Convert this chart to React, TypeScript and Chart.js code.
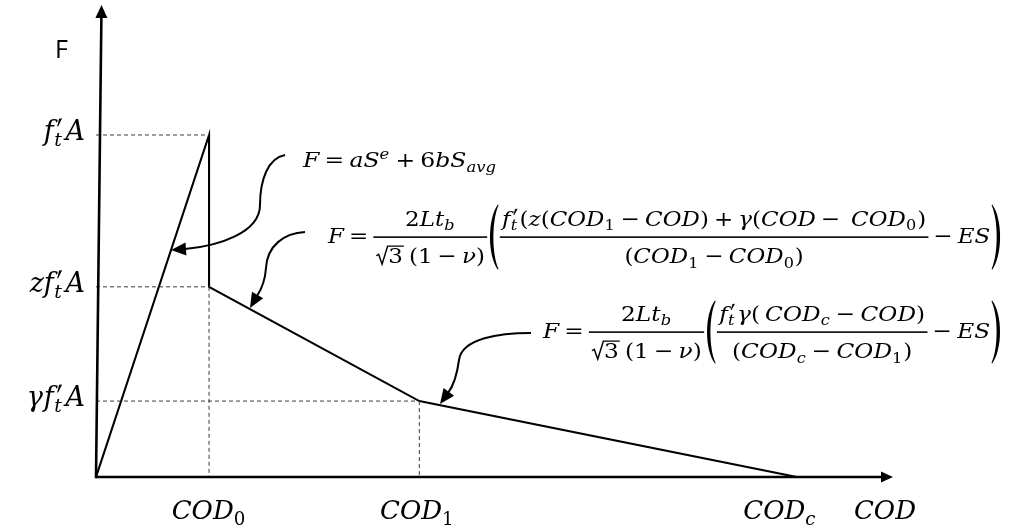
import React, { useEffect, useRef } from 'react';
import { Chart, registerables } from 'chart.js';

Chart.register(...registerables);

// Trilinear cohesive law: force F against crack opening displacement COD
const curveCOD = [0, 1.0, 1.0, 2.86, 6.2];
const curveF = [0, 1.0, 0.556, 0.222, 0];

// Characteristic openings COD0, COD1, CODc and force levels f't A, z f't A, γ f't A
const codTicks = [1.0, 2.86, 6.2];
const forceTicks = [1.0, 0.556, 0.222];

const axisMaxCOD = 7.05;
const axisMaxF = 1.38;
const forceAxisLean = 0.049; // the F axis is drawn leaning slightly right

// ---------- tiny math-text typesetter ----------
type MNode =
  | { k: 'i' | 'r' | 'op'; s: string }
  | { k: 'sub' | 'sup' | 'ps' | 'sqrt'; c: MNode[] }
  | { k: 'frac'; n: MNode[]; d: MNode[] }
  | { k: 'paren'; s: '(' | ')'; h: number }
  | { k: 'sp'; w: number };

const I = (s: string): MNode => ({ k: 'i', s });
const R = (s: string): MNode => ({ k: 'r', s });
const Op = (s: string): MNode => ({ k: 'op', s });
const Sub = (c: MNode[]): MNode => ({ k: 'sub', c });
const Sup = (c: MNode[]): MNode => ({ k: 'sup', c });
const PS = (c: MNode[]): MNode => ({ k: 'ps', c });
const Sqrt = (c: MNode[]): MNode => ({ k: 'sqrt', c });
const Frac = (n: MNode[], d: MNode[]): MNode => ({ k: 'frac', n, d });
const Paren = (s: '(' | ')', h: number): MNode => ({ k: 'paren', s, h });
const Sp = (w: number): MNode => ({ k: 'sp', w });

const FAMILY = '"DejaVu Serif"';
const SCRIPT = 0.7;
const SUBDROP = 0.22;
const SUPRISE = 0.4;
const AXIS = 0.28;
const NUMUP = 0.55;
const DENDN = 1.25;
const OPPAD = 0.22;
const FRACPAD = 0.1;
const PARW = 0.55;

const font = (italic: boolean, s: number) => `${italic ? 'italic ' : ''}${s}px ${FAMILY}`;

type Box = { w: number; asc: number; desc: number };

function measureList(ctx: CanvasRenderingContext2D, list: MNode[], s: number): Box {
  let w = 0, asc = 0, desc = 0;
  for (const n of list) {
    const b = measureNode(ctx, n, s);
    w += b.w;
    asc = Math.max(asc, b.asc);
    desc = Math.max(desc, b.desc);
  }
  return { w, asc, desc };
}

function measureNode(ctx: CanvasRenderingContext2D, n: MNode, s: number): Box {
  switch (n.k) {
    case 'i':
    case 'r':
      ctx.font = font(n.k === 'i', s);
      return { w: ctx.measureText(n.s).width, asc: 0.76 * s, desc: 0.24 * s };
    case 'op':
      ctx.font = font(false, s);
      return { w: ctx.measureText(n.s).width + 2 * OPPAD * s, asc: 0.76 * s, desc: 0.24 * s };
    case 'sp':
      return { w: n.w * s, asc: 0, desc: 0 };
    case 'sub': {
      const b = measureList(ctx, n.c, s * SCRIPT);
      return { w: b.w + 0.04 * s, asc: Math.max(0, b.asc - SUBDROP * s), desc: b.desc + SUBDROP * s };
    }
    case 'sup': {
      const b = measureList(ctx, n.c, s * SCRIPT);
      return { w: b.w + 0.04 * s, asc: b.asc + SUPRISE * s, desc: 0 };
    }
    case 'ps': {
      const b = measureList(ctx, n.c, s * SCRIPT);
      return { w: Math.max(b.w, 0.24 * s) + 0.06 * s, asc: 0.8 * s, desc: b.desc + SUBDROP * s };
    }
    case 'sqrt': {
      const b = measureList(ctx, n.c, s);
      return { w: 0.55 * s + b.w + 0.04 * s, asc: b.asc + 0.12 * s, desc: Math.max(b.desc, 0.1 * s) };
    }
    case 'frac': {
      const nb = measureList(ctx, n.n, s);
      const db = measureList(ctx, n.d, s);
      return {
        w: Math.max(nb.w, db.w) + 2 * FRACPAD * s,
        asc: (AXIS + NUMUP) * s + nb.asc,
        desc: (DENDN - AXIS) * s + db.desc,
      };
    }
    case 'paren':
      return { w: PARW * s, asc: AXIS * s + (n.h * s) / 2, desc: (n.h * s) / 2 - AXIS * s };
  }
}

function drawList(ctx: CanvasRenderingContext2D, list: MNode[], x: number, y: number, s: number) {
  let cx = x;
  for (const n of list) cx += drawNode(ctx, n, cx, y, s);
  return cx - x;
}

// tapered prime mark, drawn as a small wedge
function drawPrime(ctx: CanvasRenderingContext2D, x: number, y: number, s: number) {
  const tx = x + 0.2 * s, ty = y - 0.8 * s;
  const bx = x + 0.09 * s, by = y - 0.5 * s;
  ctx.beginPath();
  ctx.moveTo(tx - 0.055 * s, ty + 0.01 * s);
  ctx.lineTo(tx + 0.055 * s, ty);
  ctx.lineTo(bx + 0.018 * s, by);
  ctx.lineTo(bx - 0.018 * s, by);
  ctx.closePath();
  ctx.fill();
}

function drawNode(ctx: CanvasRenderingContext2D, n: MNode, x: number, y: number, s: number): number {
  const b = measureNode(ctx, n, s);
  switch (n.k) {
    case 'i':
    case 'r':
      ctx.font = font(n.k === 'i', s);
      ctx.fillText(n.s, x, y);
      break;
    case 'op':
      ctx.font = font(false, s);
      ctx.fillText(n.s, x + OPPAD * s, y);
      break;
    case 'sp':
      break;
    case 'sub':
      drawList(ctx, n.c, x, y + SUBDROP * s, s * SCRIPT);
      break;
    case 'sup':
      drawList(ctx, n.c, x, y - SUPRISE * s, s * SCRIPT);
      break;
    case 'ps':
      drawPrime(ctx, x, y, s);
      drawList(ctx, n.c, x - 0.04 * s, y + SUBDROP * s, s * SCRIPT);
      break;
    case 'sqrt': {
      const inner = measureList(ctx, n.c, s);
      const top = y - inner.asc - 0.06 * s;
      ctx.save();
      ctx.lineWidth = 0.065 * s;
      ctx.lineJoin = 'miter';
      ctx.beginPath();
      ctx.moveTo(x + 0.03 * s, y - 0.36 * s);
      ctx.lineTo(x + 0.13 * s, y - 0.43 * s);
      ctx.lineTo(x + 0.28 * s, y + 0.04 * s);
      ctx.lineTo(x + 0.52 * s, top);
      ctx.lineTo(x + 0.55 * s + inner.w + 0.04 * s, top);
      ctx.stroke();
      ctx.restore();
      drawList(ctx, n.c, x + 0.55 * s, y, s);
      break;
    }
    case 'frac': {
      const nb = measureList(ctx, n.n, s);
      const db = measureList(ctx, n.d, s);
      const ay = y - AXIS * s;
      const t = 0.075 * s;
      ctx.fillRect(x, ay - t / 2, b.w, t);
      drawList(ctx, n.n, x + (b.w - nb.w) / 2, ay - NUMUP * s, s);
      drawList(ctx, n.d, x + (b.w - db.w) / 2, ay + DENDN * s, s);
      break;
    }
    case 'paren': {
      const h = n.h * s;
      const top = y - AXIS * s - h / 2;
      const bot = top + h;
      const w = b.w;
      // mirrored for the closing side
      const X = (f: number) => (n.s === '(' ? x + f * w : x + (1 - f) * w);
      ctx.beginPath();
      ctx.moveTo(X(0.85), top);
      ctx.bezierCurveTo(X(0.02), top + 0.22 * h, X(0.02), bot - 0.22 * h, X(0.85), bot);
      ctx.lineTo(X(0.9), bot - 0.01 * h);
      ctx.bezierCurveTo(X(0.36), bot - 0.24 * h, X(0.36), top + 0.24 * h, X(0.9), top + 0.01 * h);
      ctx.closePath();
      ctx.fill();
      break;
    }
  }
  return b.w;
}

// draws a formula between left and right edges (horizontal fit), at a baseline
function drawFitted(ctx: CanvasRenderingContext2D, list: MNode[], left: number, right: number, baseline: number, s: number) {
  const b = measureList(ctx, list, s);
  ctx.save();
  ctx.translate(left, baseline);
  ctx.scale((right - left) / b.w, 1);
  drawList(ctx, list, 0, 0, s);
  ctx.restore();
}

function drawAt(ctx: CanvasRenderingContext2D, list: MNode[], x: number, baseline: number, s: number, align: 'left' | 'center' | 'right') {
  const b = measureList(ctx, list, s);
  const x0 = align === 'left' ? x : align === 'center' ? x - b.w / 2 : x - b.w;
  drawList(ctx, list, x0, baseline, s);
}

// ---------- label and formula content ----------
const fPrime = (): MNode[] => [I('f'), Sp(0.05), PS([I('t')])];
const forceTickLabels: MNode[][] = [
  [...fPrime(), Sp(0.04), I('A')],
  [I('z'), ...fPrime(), Sp(0.04), I('A')],
  [I('γ'), Sp(0.04), ...fPrime(), Sp(0.04), I('A')],
];
const codTickLabels: MNode[][] = [
  [I('COD'), Sub([R('0')])],
  [I('COD'), Sub([R('1')])],
  [I('COD'), Sub([I('c')])],
];
const codAxisTitle: MNode[] = [I('COD')];
const forceAxisTitle = 'F';

const prefactor = (): MNode => Frac(
  [R('2'), I('Lt'), Sub([I('b')])],
  [Sqrt([R('3')]), Sp(0.22), R('(1'), Op('−'), I('ν'), R(')')],
);

const formulaElastic: MNode[] = [
  I('F'), Op('='), I('aS'), Sup([I('e')]), Op('+'), R('6'), I('bS'), Sub([I('avg')]),
];

const formulaSoftening1: MNode[] = [
  I('F'), Op('='), prefactor(), Paren('(', 3.1),
  Frac(
    [
      ...fPrime(), R('('), I('z'), R('('), I('COD'), Sub([R('1')]), Op('−'), I('COD'), R(')'),
      Op('+'), I('γ'), R('('), I('COD'), Op('−'), Sp(0.25), I('COD'), Sub([R('0')]), R(')'),
    ],
    [R('('), I('COD'), Sub([R('1')]), Op('−'), I('COD'), Sub([R('0')]), R(')')],
  ),
  Op('−'), I('ES'), Paren(')', 3.1),
];

const formulaSoftening2: MNode[] = [
  I('F'), Op('='), prefactor(), Paren('(', 3.0),
  Frac(
    [...fPrime(), I('γ'), R('('), Sp(0.22), I('COD'), Sub([I('c')]), Op('−'), I('COD'), R(')')],
    [R('('), I('COD'), Sub([I('c')]), Op('−'), I('COD'), Sub([R('1')]), R(')')],
  ),
  Op('−'), I('ES'), Paren(')', 3.0),
];

// callout curves: start, two cubic segments, arrow tip (canvas pixels)
const callouts = [
  { p: [[285, 155], [268, 158], [260, 180], [260, 205], [260, 233], [218, 246], [185, 249]], tip: [171, 250] },
  { p: [[305, 232], [284, 233], [267, 246], [266, 268], [265, 282], [261, 290], [257, 296]], tip: [250, 308] },
  { p: [[531, 333], [500, 333], [462, 338], [459, 360], [457, 375], [454, 385], [448, 393]], tip: [440, 404] },
];

function arrowHead(ctx: CanvasRenderingContext2D, fx: number, fy: number, tx: number, ty: number, len: number, hw: number) {
  const dx = tx - fx, dy = ty - fy;
  const d = Math.hypot(dx, dy) || 1;
  const ux = dx / d, uy = dy / d;
  const bx = tx - ux * len, by = ty - uy * len;
  ctx.beginPath();
  ctx.moveTo(tx, ty);
  ctx.lineTo(bx - uy * hw, by + ux * hw);
  ctx.lineTo(bx + uy * hw, by - ux * hw);
  ctx.closePath();
  ctx.fill();
}

const diagramPlugin = {
  id: 'cohesiveDiagram',
  afterDatasetsDraw(chart: Chart) {
    const { ctx } = chart;
    const xs = chart.scales.x;
    const ys = chart.scales.y;
    const px = (v: number) => xs.getPixelForValue(v);
    const py = (v: number) => ys.getPixelForValue(v);
    ctx.save();
    ctx.fillStyle = '#000';
    ctx.strokeStyle = '#000';
    ctx.textBaseline = 'alphabetic';
    ctx.textAlign = 'left';

    // axes with arrow heads
    const ox = px(0), oy = py(0);
    const xEnd = px(axisMaxCOD);
    const yTopX = px(forceAxisLean), yTop = py(axisMaxF);
    ctx.lineWidth = 2.6;
    ctx.lineCap = 'butt';
    ctx.beginPath();
    ctx.moveTo(ox, oy);
    ctx.lineTo(xEnd - 10, oy);
    ctx.stroke();
    arrowHead(ctx, ox, oy, xEnd, oy, 12, 5.5);
    ctx.beginPath();
    ctx.moveTo(ox, oy + 1.3);
    ctx.lineTo(yTopX - 0.15, yTop + 11);
    ctx.stroke();
    arrowHead(ctx, ox, oy, yTopX, yTop, 13, 6);

    // axis titles and tick labels
    ctx.font = '25px "Open Sans"';
    ctx.fillText(forceAxisTitle, 55, 58);
    const labelSize = 26;
    const forceLabelSize = 27;
    forceTicks.forEach((v, i) => drawAt(ctx, forceTickLabels[i], ox - 11, py(v) + 5, forceLabelSize, 'right'));
    const codShift = [0, -2, -17];
    codTicks.forEach((v, i) => drawAt(ctx, codTickLabels[i], px(v) + codShift[i], 519, labelSize, 'center'));
    drawAt(ctx, codAxisTitle, xEnd - 8, 519, labelSize, 'center');

    // callout curves
    ctx.lineWidth = 2;
    for (const c of callouts) {
      const p = c.p;
      ctx.beginPath();
      ctx.moveTo(p[0][0], p[0][1]);
      ctx.bezierCurveTo(p[1][0], p[1][1], p[2][0], p[2][1], p[3][0], p[3][1]);
      ctx.bezierCurveTo(p[4][0], p[4][1], p[5][0], p[5][1], p[6][0], p[6][1]);
      ctx.stroke();
      arrowHead(ctx, p[6][0], p[6][1], c.tip[0], c.tip[1], 15, 6.5);
    }

    // branch formulas
    const fs = 21;
    drawFitted(ctx, formulaElastic, 303, 497, 167, fs);
    drawFitted(ctx, formulaSoftening1, 328, 1003, 243, fs);
    drawFitted(ctx, formulaSoftening2, 543, 1003, 338, fs);

    ctx.restore();
  },
};

export default function App() {
  const canvasRef = useRef<HTMLCanvasElement | null>(null);

  useEffect(() => {
    const canvas = canvasRef.current;
    if (!canvas) return;

    const curve = curveCOD.map((x, i) => ({ x, y: curveF[i] }));
    // dashed projections of the break points onto both axes:
    // each force level runs to the opening where the curve reaches it
    const levelEnds = [codTicks[0], codTicks[0], codTicks[1]];
    const guides: { x: number; y: number }[][] = forceTicks.map((f, i) => [
      { x: 0, y: f },
      { x: levelEnds[i], y: f },
    ]);
    guides.push([{ x: codTicks[0], y: forceTicks[1] }, { x: codTicks[0], y: 0 }]);
    guides.push([{ x: codTicks[1], y: forceTicks[2] }, { x: codTicks[1], y: 0 }]);

    const guideSets = guides.map((g) => ({
      data: g,
      showLine: true,
      borderColor: '#3a3a3a',
      borderWidth: 1,
      borderDash: [4, 3],
      pointRadius: 0,
      fill: false,
    }));

    const chart = new Chart(canvas, {
      type: 'scatter',
      data: {
        datasets: [
          ...guideSets,
          {
            data: curve,
            showLine: true,
            borderColor: '#000',
            borderWidth: 2.1,
            pointRadius: 0,
            fill: false,
            borderJoinStyle: 'miter',
          },
        ],
      },
      options: {
        responsive: false,
        animation: false,
        events: [],
        layout: { padding: { left: 96, right: 117, top: 5, bottom: 55 } },
        scales: {
          x: { type: 'linear', min: 0, max: axisMaxCOD, display: false },
          y: { type: 'linear', min: 0, max: axisMaxF, display: false },
        },
        plugins: { legend: { display: false }, tooltip: { enabled: false } },
      },
      plugins: [diagramPlugin],
    } as any);

    return () => chart.destroy();
  }, []);

  return (
    <div style={{ position: 'absolute', left: 0, top: 0, width: 1010, height: 532, background: '#fff' }}>
      <canvas ref={canvasRef} width={1010} height={532} style={{ display: 'block' }} />
    </div>
  );
}
